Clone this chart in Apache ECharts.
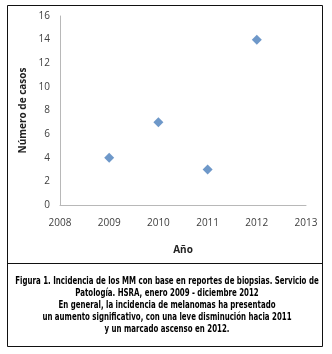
<!DOCTYPE html>
<html>
<head>
<meta charset="utf-8">
<script src="https://cdn.jsdelivr.net/npm/echarts@6/dist/echarts.min.js"></script>
<style>
  html, body { margin: 0; padding: 0; background: #fff; }
  #chart { width: 332px; height: 354px; }
</style>
</head>
<body>
<div id="chart"></div>
<script>
// datos
var years = [2009, 2010, 2011, 2012];
var cases = [4, 7, 3, 14];
var xTicks = [2008, 2013];
var yTicks = [0, 16];
var captionLines = [
  'Figura 1. Incidencia de los MM con base en reportes de biopsias. Servicio de',
  'Patología. HSRA, enero 2009 - diciembre 2012',
  'En general, la incidencia de melanomas ha presentado',
  'un aumento significativo, con una leve disminución hacia 2011',
  'y un marcado ascenso en 2012.'
];

var tickFont = { fontFamily: 'Open Sans', fontSize: 10, color: '#404040' };
var capFont = '"Liberation Sans Narrow", "DejaVu Sans Condensed", sans-serif';

var myChart = echarts.init(document.getElementById('chart'));
var option = {
  backgroundColor: '#fff',
  animation: false,
  grid: { left: 60, right: 26, top: 16, bottom: 149 },
  xAxis: {
    type: 'value',
    min: xTicks[0], max: xTicks[1], interval: 1,
    name: 'Año', nameLocation: 'middle', nameGap: 40,
    nameTextStyle: { fontFamily: 'Open Sans', fontSize: 10, fontWeight: 'bold', color: '#222' },
    axisLine: { lineStyle: { color: '#b8b8b8' } },
    axisTick: { show: false },
    splitLine: { show: false },
    axisLabel: Object.assign({ margin: 13, formatter: function (v) { return String(v); } }, tickFont)
  },
  yAxis: {
    type: 'value',
    min: yTicks[0], max: yTicks[1], interval: 2,
    name: 'Número de casos', nameLocation: 'middle', nameGap: 28,
    nameTextStyle: { fontFamily: 'Open Sans', fontSize: 10, fontWeight: 'bold', color: '#222' },
    axisLine: { show: true, lineStyle: { color: '#b8b8b8' } },
    axisTick: { show: false },
    splitLine: { show: false },
    axisLabel: Object.assign({ margin: 10 }, tickFont)
  },
  series: [{
    type: 'scatter',
    symbol: 'diamond',
    symbolSize: 10,
    itemStyle: { color: '#4a7ebb' },
    data: years.map(function (y, i) { return [y, cases[i]]; })
  }],
  graphic: [
    {
      type: 'rect', shape: { x: 7.5, y: 5.5, width: 315, height: 341 },
      style: { fill: null, stroke: '#111', lineWidth: 1 }, silent: true
    },
    {
      type: 'line', shape: { x1: 7.5, y1: 263.5, x2: 322.5, y2: 263.5 },
      style: { stroke: '#111', lineWidth: 1 }, silent: true
    },
    {
      type: 'text', x: 167, y: 275, scaleX: 0.71, originX: 0,
      style: {
        text: captionLines.join('\n'),
        font: 'bold 11px ' + capFont,
        lineHeight: 12,
        align: 'center',
        verticalAlign: 'top',
        fill: '#000'
      }
    }
  ]
};
myChart.setOption(option);
</script>
</body>
</html>
